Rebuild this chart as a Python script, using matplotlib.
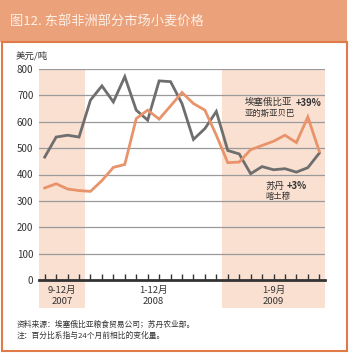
import matplotlib
matplotlib.use("Agg")
import matplotlib.pyplot as plt
from matplotlib.patches import Rectangle
import matplotlib.transforms as mtransforms

plt.rcParams['font.family'] = ['Noto Sans CJK SC', 'DejaVu Sans']

# ---- data ----
months = list(range(25))  # Sep 2007 .. Sep 2009
sudan_khartoum = [466, 542, 549, 542,
                  682, 736, 675, 771, 644, 606, 755, 752, 669, 533, 574, 639,
                  491, 478, 403, 430, 418, 422, 409, 426, 481]
ethiopia_addis = [349, 365, 345, 339,
                  336, 377, 427, 438, 612, 644, 610, 660, 711, 669, 644, 549,
                  445, 447, 494, 510, 526, 549, 521, 618, 488]
yticks = [0, 100, 200, 300, 400, 500, 600, 700, 800]
period_labels = ["9-12月\n2007", "1-12月\n2008", "1-9月\n2009"]
period_spans = [(-0.5, 3.5), (3.5, 15.5), (15.5, 24.5)]
shaded = [True, False, True]

W, H = 350, 353
fig = plt.figure(figsize=(W/100, H/100), dpi=100)
fig.patch.set_facecolor('white')

# title bar and border
fig.patches.append(Rectangle((0, 1 - 42/H), 347/W, 42/H, transform=fig.transFigure,
                             facecolor='#EBA27B', edgecolor='none', zorder=0))
fig.patches.append(Rectangle((1.5/W, 1 - 351/H), 345/W, (351-42)/H, transform=fig.transFigure,
                             facecolor='none', edgecolor='#E07A48', lw=1.5, zorder=1))
fig.text(10/W, 1 - 22/H, "图12. 东部非洲部分市场小麦价格", color='#FDF0E6',
         fontsize=9.5, va='center', ha='left', fontweight='light')

left, right = 39/W, 325/W
bottom, top = 1 - 280/H, 1 - 69/H
ax = fig.add_axes([left, bottom, right-left, top-bottom])
ax.patch.set_alpha(0)
ax.set_xlim(-0.5, 24.5)
ax.set_ylim(0, 800)

trans = mtransforms.blended_transform_factory(ax.transData, ax.transAxes)
axh = 280 - 69
for (x0, x1), sh, lab in zip(period_spans, shaded, period_labels):
    if sh:
        ax.add_patch(Rectangle((x0, (280-308)/axh), x1-x0, 1 - (280-308)/axh,
                               transform=trans, facecolor='#FAE0D1', edgecolor='none',
                               clip_on=False, zorder=0))
    ax.text((x0+x1)/2, (280-296)/axh, lab, transform=trans, ha='center', va='center',
            fontsize=6.8, color='#333333', linespacing=1.4)

for v in yticks[1:]:
    ax.axhline(v, color='#9A9A9A', lw=0.9, zorder=1)

ax.plot(months, sudan_khartoum, color='#6E6E6E', lw=2.0, zorder=3, solid_joinstyle='miter')
ax.plot(months, ethiopia_addis, color='#E8936A', lw=2.0, zorder=3, solid_joinstyle='miter')

for s in ['top', 'right', 'left']:
    ax.spines[s].set_visible(False)
ax.spines['bottom'].set_linewidth(2)
ax.spines['bottom'].set_color('#333333')
ax.spines['bottom'].set_zorder(4)
ax.set_xticks(months)
ax.set_xticklabels([])
ax.tick_params(axis='x', direction='in', length=4, width=1, color='#333333')
ax.set_yticks(yticks)
ax.set_yticklabels([str(v) for v in yticks])
ax.tick_params(axis='y', length=0, pad=4, labelsize=7, labelcolor='#333333')

fig.text(16/W, 1 - 56/H, "美元/吨", fontsize=6.8, color='#333333', va='center', ha='left')

fig.text(245/W, 1 - 102.5/H, "埃塞俄比亚", fontsize=6.8, color='#333333', va='center', ha='left')
fig.text(296/W, 1 - 102.5/H, "+39%", fontsize=6.8, color='#333333', va='center', ha='left',
         fontweight='bold')
fig.text(245/W, 1 - 113/H, "亚的斯亚贝巴", fontsize=6.0, color='#333333', va='center', ha='left')
fig.text(265/W, 1 - 186.5/H, "苏丹", fontsize=6.8, color='#333333', va='center', ha='left')
fig.text(287/W, 1 - 186.5/H, "+3%", fontsize=6.8, color='#333333', va='center', ha='left',
         fontweight='bold')
fig.text(265/W, 1 - 196/H, "喀土穆", fontsize=6.0, color='#333333', va='center', ha='left')

fig.text(17/W, 1 - 325/H, "资料来源：埃塞俄比亚粮食贸易公司；苏丹农业部。", fontsize=5.6,
         color='#333333', va='center', ha='left')
fig.text(17/W, 1 - 336/H, "注：百分比系指与24个月前相比的变化量。", fontsize=5.6,
         color='#333333', va='center', ha='left')

fig.savefig("out.png", dpi=100, facecolor='white')
